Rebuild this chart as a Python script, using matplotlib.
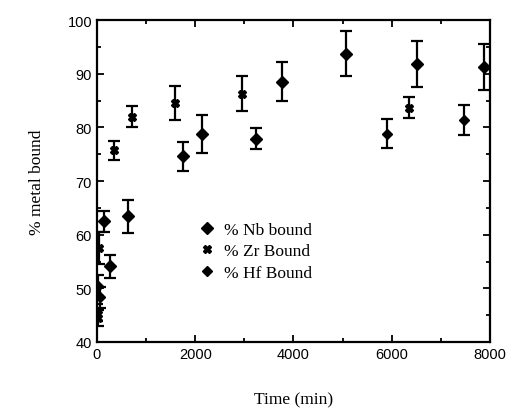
import matplotlib.pyplot as plt
from matplotlib.lines import Line2D
from matplotlib.ticker import MultipleLocator

# data (time in min, % metal bound, +/- error)
nb_time = [140, 265, 630, 1750, 2140, 3240, 3760, 5060, 6520, 7870]
nb_val = [62.5, 54.1, 63.4, 74.6, 78.8, 77.9, 88.5, 93.7, 91.9, 91.3]
nb_err = [2.0, 2.2, 3.0, 2.7, 3.6, 2.0, 3.6, 4.2, 4.3, 4.3]

zr_time = [15, 40, 346, 713, 1590, 2960, 6360]
zr_val = [44.5, 57.5, 75.7, 82.0, 84.6, 86.3, 83.7]
zr_err = [1.5, 3.0, 1.8, 2.0, 3.2, 3.3, 1.9]

hf_time = [10, 30, 60, 5910, 7470]
hf_val = [45.5, 50.5, 48.3, 78.8, 81.4]
hf_err = [1.5, 2.0, 2.0, 2.7, 2.8]

labels = ["% Nb bound", "% Zr Bound", "% Hf Bound"]

serif = "Liberation Serif"
sans = "Liberation Sans"

fig = plt.figure(figsize=(5.13, 4.14), dpi=100)
ax = fig.add_axes([0.189, 0.1715, 0.766, 0.7775])

eb = dict(ls="none", color="black", ecolor="black", elinewidth=1.6,
          capsize=4.5, capthick=1.6)
ax.errorbar(nb_time, nb_val, yerr=nb_err, marker="D", ms=6, **eb)
ax.errorbar(zr_time, zr_val, yerr=zr_err, marker="X", ms=6, **eb)
ax.errorbar(hf_time, hf_val, yerr=hf_err, marker="D", ms=5, **eb)

ax.set_xlim(0, 8000)
ax.set_ylim(40, 100)
ax.xaxis.set_major_locator(MultipleLocator(2000))
ax.xaxis.set_minor_locator(MultipleLocator(1000))
ax.yaxis.set_major_locator(MultipleLocator(10))
ax.yaxis.set_minor_locator(MultipleLocator(5))
ax.tick_params(which="both", direction="in", top=True, right=True, width=1.3)
ax.tick_params(which="major", length=5)
ax.tick_params(which="minor", length=3)
for lab in ax.get_xticklabels() + ax.get_yticklabels():
    lab.set_fontfamily(sans)
    lab.set_fontsize(10.5)
for sp in ax.spines.values():
    sp.set_linewidth(1.6)

ax.set_xlabel("Time (min)", family=serif, fontsize=12.5, labelpad=22)
ax.set_ylabel("% metal bound", family=serif, fontsize=12.5, labelpad=16)

handles = [Line2D([], [], ls="none", marker="D", ms=6, color="black"),
           Line2D([], [], ls="none", marker="X", ms=6, color="black"),
           Line2D([], [], ls="none", marker="D", ms=5, color="black")]
ax.legend(handles, labels, loc="upper left", bbox_to_anchor=(0.24, 0.395),
          frameon=False, prop=dict(family=serif, size=12.5),
          handlelength=1.0, handletextpad=0.5, labelspacing=0.3,
          borderaxespad=0)

fig.savefig("out.png", dpi=100)
